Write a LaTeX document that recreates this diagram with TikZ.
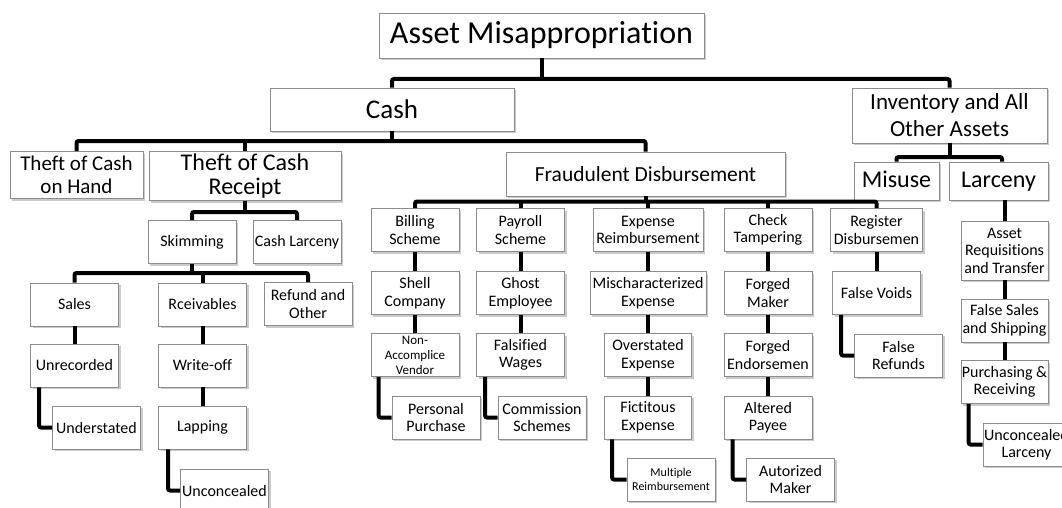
\documentclass[tikz,border=0pt]{standalone}
\usepackage{fontspec}
\setmainfont{Carlito}[Ligatures=NoCommon]
\usetikzlibrary{shadows}

\tikzset{
  box/.style={draw=black!45, line width=0.8pt, fill=white, align=center, inner sep=0pt,
    drop shadow={shadow xshift=2pt, shadow yshift=-2pt, fill=black!40, opacity=0.5},
    font=\fontsize{16}{17.5}\selectfont},
  cell/.style={box, minimum width=88, minimum height=43},
  link/.style={line width=4pt, rounded corners=2pt},
}

\begin{document}
\begin{tikzpicture}[x=1pt, y=-1pt]
     \path[fill=white, use as bounding box] (0,0) rectangle (1062,508);
     \clip (0,0) rectangle (1062,508);

     \coordinate (busA) at (0,79);
     \coordinate (busB) at (0,141);
     \coordinate (busC) at (0,157);
     \coordinate (busD) at (0,212);
     \coordinate (busE) at (0,273);
     \coordinate (busF) at (0,201.5);

     \node[box, minimum width=325, minimum height=45, font=\fontsize{32}{34}\selectfont] (asset) at (541.5,35.5) {Asset Misappropriation};
     \node[box, minimum width=244, minimum height=43, font=\fontsize{27}{30}\selectfont] (cash) at (392,109.5) {Cash};
     \node[box, minimum width=195, minimum height=55, font=\fontsize{23}{27}\selectfont] (inv) at (949.5,115.5) {Inventory and All\\Other Assets};
     \node[box, minimum width=133, minimum height=47, font=\fontsize{21}{22.5}\selectfont] (hand) at (76.5,175) {Theft of Cash\\on Hand};
     \node[box, minimum width=192, minimum height=49, font=\fontsize{24}{24}\selectfont] (receipt) at (245,176) {Theft of Cash\\Receipt};
     \node[box, minimum width=279, minimum height=44, font=\fontsize{21.5}{23}\selectfont] (fraud) at (645.5,174) {Fraudulent Disbursement};
     \node[box, minimum width=85, minimum height=38, text height=17, text depth=5, font=\fontsize{24}{26}\selectfont] (misuse) at (896.5,181) {Misuse};
     \node[box, minimum width=99, minimum height=38, text height=17, text depth=5, font=\fontsize{24}{26}\selectfont] (larceny) at (998.5,181) {Larceny};

     \node[cell] (skim) at (192,242) {Skimming};
     \node[cell] (cashlar) at (297,242) {Cash Larceny};
     \node[cell] (sales) at (74.5,304.5) {Sales};
     \node[cell] (rcv) at (202.5,304.5) {Rceivables};
     \node[cell] (refund) at (308,304) {Refund and\\Other};
     \node[cell] (unrec) at (74.5,365.5) {Unrecorded};
     \node[cell] (writeoff) at (202.5,365.5) {Write-off};
     \node[cell] (under) at (96.5,427.5) {Understated};
     \node[cell] (lapping) at (202.5,427.5) {Lapping};
     \node[cell] (unconc) at (224.5,490.5) {Unconcealed};

     \node[cell] (billing) at (415,230) {Billing\\Scheme};
     \node[cell] (payroll) at (520.5,230) {Payroll\\Scheme};
     \node[cell, minimum width=110] (expense) at (648,230) {Expense\\Reimbursement};
     \node[cell] (check) at (768,230) {Check\\Tampering};
     \node[cell, minimum width=92] (register) at (876.5,230) {Register\\Disbursemen};
     \node[cell] (shell) at (415,293) {Shell\\Company};
     \node[cell] (ghost) at (520.5,293) {Ghost\\Employee};
     \node[cell, minimum width=116] (misch) at (648,293) {Mischaracterized\\Expense};
     \node[cell] (forgedm) at (768,293) {Forged\\Maker};
     \node[cell] (voids) at (876.5,293) {False Voids};
     \node[cell, font=\fontsize{13}{15}\selectfont] (nonacc) at (415,355) {Non-\\Accomplice\\Vendor};
     \node[cell] (falsw) at (520.5,355) {Falsified\\Wages};
     \node[cell, minimum width=87] (overst) at (648,355) {Overstated\\Expense};
     \node[cell] (forgede) at (768,355) {Forged\\Endorsemen};
     \node[cell] (refunds) at (898.5,355.5) {False\\Refunds};
     \node[cell] (personal) at (436,417.5) {Personal\\Purchase};
     \node[cell] (commission) at (542,417.5) {Commission\\Schemes};
     \node[cell, minimum width=87] (fictit) at (648,417.5) {Fictitous\\Expense};
     \node[cell] (altered) at (768,417.5) {Altered\\Payee};
     \node[cell, font=\fontsize{12}{14}\selectfont] (multiple) at (671,479.5) {Multiple\\Reimbursement};
     \node[cell] (autorized) at (790.5,479.5) {Autorized\\Maker};

     \node[cell, minimum width=87, minimum height=59] (areq) at (1004.5,250.5) {Asset\\Requisitions\\and Transfer};
     \node[cell, minimum width=87] (fsales) at (1004.5,320.5) {False Sales\\and Shipping};
     \node[cell, minimum width=87] (purch) at (1004.5,382) {Purchasing \&\\Receiving};
     \node[cell, minimum width=87] (unconclar) at (1026.5,444.5) {Unconcealed\\Larceny};

     \draw[link] (asset.south) -- (asset.south |- busA);
     \draw[link] (cash.north) |- (inv.north |- busA) -- (inv.north);

     \draw[link] (cash.south) -- (cash.south |- busB);
     \draw[link] (hand.north) |- (fraud.north |- busB) -- (fraud.north);
     \draw[link] (receipt.north) -- (receipt.north |- busB);

     \draw[link] (inv.south) -- (inv.south |- busC);
     \draw[link] (misuse.north) |- ([xshift=3.5pt]larceny.north |- busC) -- ([xshift=3.5pt]larceny.north);

     \draw[link] (receipt.south) -- (receipt.south |- busD);
     \draw[link] (skim.north) |- (cashlar.north |- busD) -- (cashlar.north);

     \draw[link] (skim.south) -- (skim.south |- busE);
     \draw[link] (sales.north) |- (refund.north |- busE) -- (refund.north);
     \draw[link] (rcv.north) -- (rcv.north |- busE);
     \draw[link] (sales.south) -- (unrec.north);
     \draw[link] (rcv.south) -- (writeoff.north);
     \draw[link] (writeoff.south) -- (lapping.north);
     \draw[link] ([xshift=9pt]unrec.south west) |- (under.west);
     \draw[link] ([xshift=10pt]lapping.south west) |- (unconc.west);

     \draw[link] (fraud.south) -- (fraud.south |- busF);
     \draw[link] (billing.north) |- (register.north |- busF) -- (register.north);
     \draw[link] (payroll.north) -- (payroll.north |- busF);
     \draw[link] (expense.north) -- (expense.north |- busF);
     \draw[link] (check.north) -- (check.north |- busF);
     \draw[link] (billing.south) -- (shell.north);
     \draw[link] (shell.south) -- (nonacc.north);
     \draw[link] (payroll.south) -- (ghost.north);
     \draw[link] (ghost.south) -- (falsw.north);
     \draw[link] (expense.south) -- (misch.north);
     \draw[link] (misch.south) -- (overst.north);
     \draw[link] (overst.south) -- (fictit.north);
     \draw[link] (check.south) -- (forgedm.north);
     \draw[link] (forgedm.south) -- (forgede.north);
     \draw[link] (forgede.south) -- (altered.north);
     \draw[link] (register.south) -- (voids.north);
     \draw[link] ([xshift=8pt]nonacc.south west) |- (personal.west);
     \draw[link] ([xshift=9pt]falsw.south west) |- (commission.west);
     \draw[link] ([xshift=8pt]fictit.south west) |- (multiple.west);
     \draw[link] ([xshift=9pt]altered.south west) |- (autorized.west);
     \draw[link] ([xshift=9pt]voids.south west) |- (refunds.west);

     \draw[link] (larceny.south -| areq.north) -- (areq.north);
     \draw[link] (areq.south) -- (fsales.north);
     \draw[link] (fsales.south) -- (purch.north);
     \draw[link] ([xshift=8pt]purch.south west) |- (unconclar.west);

  \end{tikzpicture}
\end{document}
